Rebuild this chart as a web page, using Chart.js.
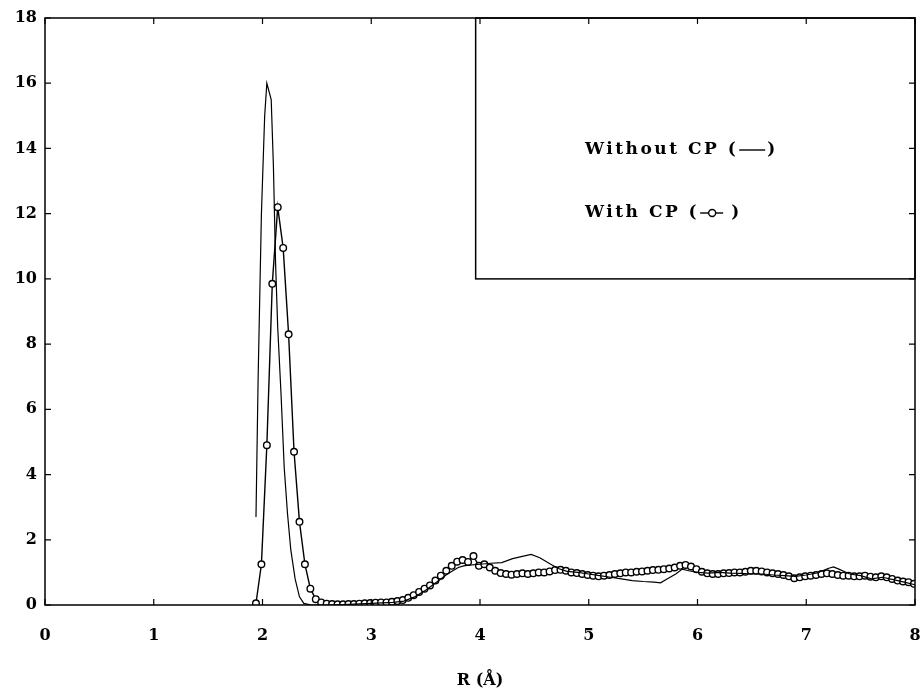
<!DOCTYPE html>
<html>
<head>
<meta charset="utf-8">
<script src="https://cdn.jsdelivr.net/npm/chart.js@4/dist/chart.umd.min.js"></script>
<style>
  html, body { margin: 0; padding: 0; background: #fff; }
  #wrap { width: 923px; height: 691px; }
</style>
</head>
<body>
<div id="wrap"><canvas id="rdf"></canvas></div>
<script>
// tick labels
const xTicks = [0, 1, 2, 3, 4, 5, 6, 7, 8];
const yTicks = [0, 2, 4, 6, 8, 10, 12, 14, 16, 18];

// Without CP (plain line)
const rNoCP = [1.94, 1.96, 1.99, 2.02, 2.04, 2.08, 2.10, 2.12, 2.14, 2.17, 2.20, 2.23, 2.26, 2.30, 2.34, 2.38,
  2.45, 2.60, 2.80, 3.00, 3.20, 3.30, 3.40, 3.50, 3.60, 3.70, 3.80, 3.85, 3.90, 4.00, 4.10, 4.20, 4.30, 4.40,
  4.47, 4.55, 4.65, 4.72, 4.80, 4.90, 5.00, 5.10, 5.20, 5.30, 5.40, 5.50, 5.60, 5.66, 5.72, 5.80, 5.86, 5.92,
  6.00, 6.10, 6.20, 6.30, 6.40, 6.50, 6.60, 6.70, 6.80, 6.90, 7.00, 7.10, 7.20, 7.25, 7.30, 7.40, 7.50, 7.60,
  7.70, 7.80, 7.90, 8.00];
const gNoCP = [2.7, 7, 12, 15, 16, 15.5, 13.5, 10.5, 8.5, 6.5, 4.2, 2.8, 1.7, 0.8, 0.25, 0.05,
  0.0, 0.0, 0.02, 0.05, 0.08, 0.12, 0.25, 0.45, 0.7, 0.95, 1.15, 1.2, 1.22, 1.25, 1.28, 1.3, 1.42, 1.5,
  1.55, 1.45, 1.25, 1.12, 1.03, 1.0, 0.95, 0.9, 0.85, 0.8, 0.75, 0.72, 0.7, 0.68, 0.8, 0.95, 1.1, 1.05,
  1.0, 0.98, 1.0, 0.98, 0.97, 0.95, 0.95, 0.92, 0.9, 0.88, 0.92, 0.98, 1.12, 1.17, 1.1, 0.95, 0.9, 0.8,
  0.85, 0.78, 0.7, 0.62];

// With CP (line with open circles)
const rCP = [1.94, 1.99, 2.04, 2.09, 2.14, 2.19, 2.24, 2.29, 2.34, 2.39, 2.44, 2.49,
  2.54, 2.59, 2.64, 2.69, 2.74, 2.79, 2.84, 2.89, 2.94, 2.99,
  3.04, 3.09, 3.14, 3.19, 3.24, 3.29, 3.34, 3.39, 3.44, 3.49,
  3.54, 3.59, 3.64, 3.69, 3.74, 3.79, 3.84, 3.89, 3.94, 3.99,
  4.04, 4.09, 4.14, 4.19, 4.24, 4.29, 4.34, 4.39, 4.44, 4.49,
  4.54, 4.59, 4.64, 4.69, 4.74, 4.79, 4.84, 4.89, 4.94, 4.99,
  5.04, 5.09, 5.14, 5.19, 5.24, 5.29, 5.34, 5.39, 5.44, 5.49,
  5.54, 5.59, 5.64, 5.69, 5.74, 5.79, 5.84, 5.89, 5.94, 5.99,
  6.04, 6.09, 6.14, 6.19, 6.24, 6.29, 6.34, 6.39, 6.44, 6.49,
  6.54, 6.59, 6.64, 6.69, 6.74, 6.79, 6.84, 6.89, 6.94, 6.99,
  7.04, 7.09, 7.14, 7.19, 7.24, 7.29, 7.34, 7.39, 7.44, 7.49,
  7.54, 7.59, 7.64, 7.69, 7.74, 7.79, 7.84, 7.89, 7.94, 7.99];
const gCP = [0.05, 1.25, 4.9, 9.85, 12.2, 10.95, 8.3, 4.7, 2.55, 1.25, 0.5, 0.18,
  0.08, 0.04, 0.03, 0.02, 0.02, 0.03, 0.03, 0.04, 0.05, 0.06,
  0.07, 0.08, 0.08, 0.1, 0.12, 0.15, 0.22, 0.3, 0.4, 0.5,
  0.6, 0.75, 0.9, 1.05, 1.2, 1.33, 1.38, 1.32, 1.5, 1.2,
  1.25, 1.15, 1.05, 0.98, 0.95, 0.93, 0.95, 0.97, 0.95, 0.97,
  1.0, 1.0, 1.03, 1.07, 1.08, 1.05, 1.0, 0.98, 0.95, 0.92,
  0.9, 0.88, 0.9, 0.92, 0.95, 0.97, 1.0, 1.0, 1.02, 1.03,
  1.05, 1.07, 1.08, 1.1, 1.12, 1.15, 1.2, 1.23, 1.18, 1.1,
  1.02, 0.97, 0.95, 0.95, 0.97, 0.98, 1.0, 1.0, 1.02, 1.05,
  1.05, 1.03, 1.0, 0.97, 0.95, 0.92, 0.88, 0.82, 0.85, 0.88,
  0.9, 0.92, 0.95, 0.97, 0.95, 0.92, 0.9, 0.9, 0.88, 0.88,
  0.9, 0.87, 0.85, 0.88, 0.85, 0.8, 0.75, 0.72, 0.7, 0.65];

// legend box corners in data units
const legendBox = { x0: 3.96, x1: 8, y0: 10, y1: 18 };
const legendLabels = ['Without CP (', 'With CP ('];

const FONT = '"DejaVu Serif", "Liberation Serif", serif';

const toXY = (xs, ys) => xs.map((x, i) => ({ x: x, y: ys[i] }));

// frame, inward ticks and the boxed legend
const framePlugin = {
  id: 'frame',
  afterDraw(chart) {
    const ctx = chart.ctx;
    const a = chart.chartArea;
    const xs = chart.scales.x;
    const ys = chart.scales.y;
    ctx.save();
    ctx.strokeStyle = '#000';
    ctx.lineWidth = 1.5;
    ctx.strokeRect(a.left, a.top, a.right - a.left, a.bottom - a.top);

    ctx.lineWidth = 1.2;
    ctx.beginPath();
    xTicks.forEach(v => {
      const p = xs.getPixelForValue(v);
      ctx.moveTo(p, a.bottom); ctx.lineTo(p, a.bottom - 6);
      ctx.moveTo(p, a.top); ctx.lineTo(p, a.top + 6);
    });
    yTicks.forEach(v => {
      const p = ys.getPixelForValue(v);
      ctx.moveTo(a.left, p); ctx.lineTo(a.left + 6, p);
      ctx.moveTo(a.right, p); ctx.lineTo(a.right - 6, p);
    });
    ctx.stroke();

    // legend box
    const bx0 = xs.getPixelForValue(legendBox.x0);
    const bx1 = xs.getPixelForValue(legendBox.x1);
    const by0 = ys.getPixelForValue(legendBox.y1);
    const by1 = ys.getPixelForValue(legendBox.y0);
    ctx.lineWidth = 1.5;
    ctx.strokeRect(bx0, by0, bx1 - bx0, by1 - by0);

    ctx.fillStyle = '#000';
    ctx.font = 'bold 17px ' + FONT;
    ctx.letterSpacing = '2.5px';
    ctx.textBaseline = 'middle';
    ctx.textAlign = 'left';

    // row 1: "Without CP (——)"
    let tx = 585, ty1 = 150;
    ctx.fillText(legendLabels[0], tx, ty1);
    let w = ctx.measureText(legendLabels[0]).width;
    ctx.lineWidth = 1.4;
    ctx.beginPath();
    ctx.moveTo(tx + w + 1, ty1); ctx.lineTo(tx + w + 27, ty1);
    ctx.stroke();
    ctx.fillText(')', tx + w + 29, ty1);

    // row 2: "With CP (-o-)"
    const ty2 = 213;
    ctx.fillText(legendLabels[1], tx, ty2);
    w = ctx.measureText(legendLabels[1]).width;
    ctx.beginPath();
    ctx.moveTo(tx + w + 1, ty2); ctx.lineTo(tx + w + 24, ty2);
    ctx.stroke();
    ctx.beginPath();
    ctx.arc(tx + w + 13, ty2, 3.5, 0, Math.PI * 2);
    ctx.fillStyle = '#fff';
    ctx.fill();
    ctx.stroke();
    ctx.fillStyle = '#000';
    ctx.fillText(')', tx + w + 32, ty2);
    ctx.restore();
  }
};

new Chart(document.getElementById('rdf'), {
  type: 'line',
  data: {
    datasets: [
      {
        label: 'Without CP',
        data: toXY(rNoCP, gNoCP),
        borderColor: '#000',
        borderWidth: 1.2,
        pointRadius: 0,
        tension: 0,
        fill: false
      },
      {
        label: 'With CP',
        data: toXY(rCP, gCP),
        borderColor: '#000',
        borderWidth: 1.4,
        pointRadius: 3.3,
        pointBorderWidth: 1.4,
        pointBackgroundColor: '#fff',
        pointBorderColor: '#000',
        tension: 0,
        fill: false
      }
    ]
  },
  options: {
    responsive: true,
    maintainAspectRatio: false,
    animation: false,
    layout: { padding: { top: 18, right: 8, left: 0, bottom: 0 } },
    plugins: {
      legend: { display: false },
      tooltip: { enabled: false }
    },
    scales: {
      x: {
        type: 'linear',
        min: 0,
        max: 8,
        afterBuildTicks: s => { s.ticks = xTicks.map(v => ({ value: v })); },
        afterFit: s => { s.height = 86; s.paddingLeft = 0; s.paddingRight = 0; },
        grid: { display: false, drawTicks: false },
        border: { display: false },
        ticks: {
          color: '#000',
          padding: 21,
          font: { family: FONT, size: 16, weight: 'bold' }
        },
        title: {
          display: true,
          text: 'R (\u00C5)',
          color: '#000',
          padding: { top: 0, bottom: 1 },
          font: { family: FONT, size: 16, weight: 'bold' }
        }
      },
      y: {
        type: 'linear',
        min: 0,
        max: 18,
        afterBuildTicks: s => { s.ticks = yTicks.map(v => ({ value: v })); },
        afterFit: s => { s.width = 45; s.paddingTop = 0; s.paddingBottom = 0; },
        grid: { display: false, drawTicks: false },
        border: { display: false },
        ticks: {
          color: '#000',
          padding: 8,
          font: { family: FONT, size: 16, weight: 'bold' }
        }
      }
    }
  },
  plugins: [framePlugin]
});
</script>
</body>
</html>
